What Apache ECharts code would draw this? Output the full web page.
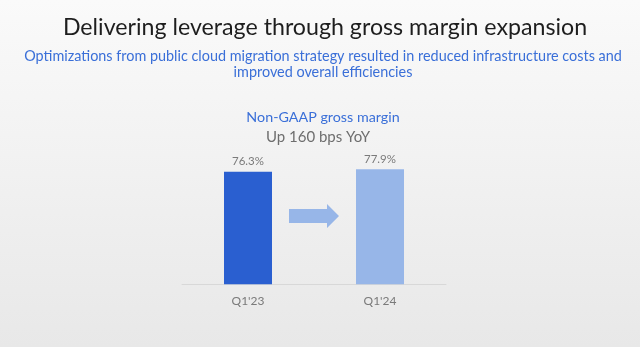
<!DOCTYPE html>
<html>
<head>
<meta charset="utf-8">
<script src="https://cdn.jsdelivr.net/npm/echarts@6/dist/echarts.min.js"></script>
<style>
  html, body { margin: 0; padding: 0; }
  #chart { width: 640px; height: 347px; }
</style>
</head>
<body>
<div id="chart"></div>
<script>
// Non-GAAP gross margin by quarter
var categories = ["Q1'23", "Q1'24"];
var marginValues = [76.3, 77.9];
var barColors = ['#2a5fd0', '#97b6e8'];

var chart = echarts.init(document.getElementById('chart'));

var option = {
  backgroundColor: {
    type: 'linear', x: 0, y: 0, x2: 0, y2: 1,
    colorStops: [
      { offset: 0, color: '#fafafa' },
      { offset: 1, color: '#e8e8e8' }
    ]
  },
  title: [
    {
      text: 'Delivering leverage through gross margin expansion',
      left: 320, top: 11, textAlign: 'center',
      textStyle: { fontFamily: 'Lato', fontWeight: 'normal', fontSize: 23.2, color: '#1e1e1e' }
    },
    {
      text: 'Optimizations from public cloud migration strategy resulted in reduced infrastructure costs and\nimproved overall efficiencies',
      left: 318, top: 43, textAlign: 'center',
      textStyle: { fontFamily: 'Lato', fontWeight: 'normal', fontSize: 14.4, lineHeight: 16.5, color: '#3a6fd8', align: 'center' }
    },
    {
      text: 'Non-GAAP gross margin',
      left: 318, top: 105, textAlign: 'center',
      textStyle: { fontFamily: 'Lato', fontWeight: 'normal', fontSize: 14.3, color: '#3a6fd8' }
    },
    {
      text: 'Up 160 bps YoY',
      left: 313, top: 125, textAlign: 'center',
      textStyle: { fontFamily: 'Lato', fontWeight: 'normal', fontSize: 15, color: '#6e6e6e' }
    }
  ],
  grid: { left: 182, right: 194, top: 136.7, bottom: 62.7 },
  xAxis: {
    type: 'category',
    data: categories,
    axisLine: { lineStyle: { color: '#d8d8d8', width: 1 } },
    axisTick: { show: false },
    axisLabel: { fontFamily: 'Lato', fontSize: 12, color: '#7a7a7a', margin: 11 }
  },
  yAxis: {
    type: 'value', min: 0, max: 100,
    show: false
  },
  series: [{
    type: 'bar',
    data: marginValues.map(function (v, i) {
      return { value: v, itemStyle: { color: barColors[i] } };
    }),
    barWidth: 48,
    label: {
      show: true, position: 'top', distance: 4,
      formatter: function (p) { return p.value.toFixed(1) + '%'; },
      fontFamily: 'Lato', fontSize: 11.5, color: '#7a7a7a'
    }
  }],
  graphic: [{
    type: 'polygon',
    shape: {
      points: [[289, 209], [327, 209], [327, 204], [339, 216], [327, 228], [327, 223], [289, 223]]
    },
    style: { fill: '#97b6e8' }
  }]
};

chart.setOption(option);
</script>
</body>
</html>
